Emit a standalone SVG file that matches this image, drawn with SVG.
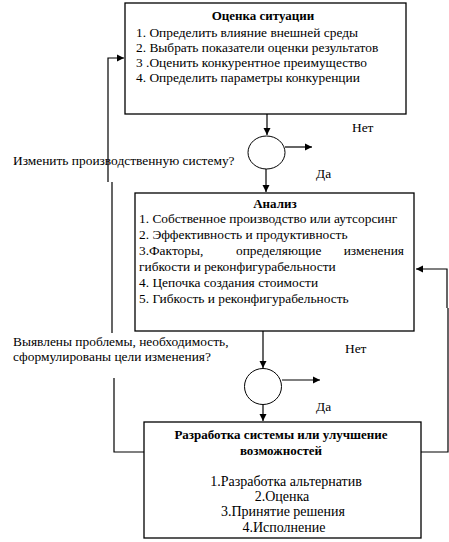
<svg xmlns="http://www.w3.org/2000/svg" width="449" height="542" viewBox="0 0 449 542">
<style>
text{font-family:"Liberation Serif","Times New Roman",serif;font-size:13.4px;fill:#000}
.b{font-weight:bold;font-size:13px}
.c{text-anchor:middle}
.e{text-anchor:end}
.l{font-size:14px}
.box{fill:#fff;stroke:#000;stroke-width:1.3}
.ln{fill:none;stroke:#000;stroke-width:1.2}
.dec{fill:#fff;stroke:#000;stroke-width:1}
</style>
<defs>
<marker id="ah" markerUnits="userSpaceOnUse" markerWidth="8" markerHeight="8" refX="7" refY="4" orient="auto">
<path d="M0,0.5 L7,4 L0,7.5 Z" fill="#000"/>
</marker>
</defs>
<rect width="449" height="542" fill="#fff"/>
<g id="connectors">
<path class="ln" d="M144,452 H114 V378 M112,333 V182 M108,182 V58 H124" marker-end="url(#ah)"/>
<path class="ln" d="M421,452 H448 V308 M447,308 V269 H416" marker-end="url(#ah)"/>
<path class="ln" d="M267,114 V135" marker-end="url(#ah)"/>
<path class="ln" d="M285,147 H312" marker-end="url(#ah)"/>
<path class="ln" d="M266,169 V192" marker-end="url(#ah)"/>
<path class="ln" d="M263,331 V368" marker-end="url(#ah)"/>
<path class="ln" d="M282,380 H320" marker-end="url(#ah)"/>
<path class="ln" d="M263,405 V421" marker-end="url(#ah)"/>
</g>
<g id="situation">
<rect class="box" x="125" y="3" width="281" height="111"/>
<text class="b c" x="263" y="20">Оценка ситуации</text>
<text x="136" y="37">1. Определить  влияние  внешней среды</text>
<text x="136" y="52">2. Выбрать показатели оценки результатов</text>
<text x="136" y="67">3 .Оценить конкурентное преимущество</text>
<text x="136" y="82">4. Определить  параметры конкуренции</text>
</g>
<g id="decision1">
<ellipse class="dec" cx="266.5" cy="152.5" rx="18.5" ry="16.5"/>
<text x="13" y="165">Изменить производственную систему?</text>
<text x="352" y="132">Нет</text>
<text x="316" y="178">Да</text>
</g>
<g id="analysis">
<rect class="box" x="135" y="193" width="279" height="138"/>
<text class="b c" x="275" y="208">Анализ</text>
<text x="139" y="223">1. Собственное производство или аутсорсинг</text>
<text x="139" y="239">2. Эффективность и продуктивность</text>
<text x="139" y="255">3.Факторы,</text>
<text x="236" y="255">определяющие</text>
<text class="e" x="404" y="255">изменения</text>
<text x="139" y="271">гибкости и реконфигурабельности</text>
<text x="139" y="287">4. Цепочка создания стоимости</text>
<text x="139" y="303">5. Гибкость и реконфигурабельность</text>
</g>
<g id="decision2">
<ellipse class="dec" cx="263" cy="386.5" rx="18.5" ry="18"/>
<text x="13" y="346">Выявлены проблемы, необходимость,</text>
<text x="13" y="361">сформулированы цели изменения?</text>
<text x="345" y="353">Нет</text>
<text x="316" y="411">Да</text>
</g>
<g id="development">
<rect class="box" x="144" y="422" width="277" height="116"/>
<text class="b c" x="281" y="439">Разработка системы или улучшение</text>
<text class="b c" x="281" y="455">возможностей</text>
<text class="c l" x="286" y="486">1.Разработка альтернатив</text>
<text class="c l" x="282" y="501">2.Оценка</text>
<text class="c l" x="283" y="516">3.Принятие решения</text>
<text class="c l" x="284" y="532">4.Исполнение</text>
</g>
</svg>
